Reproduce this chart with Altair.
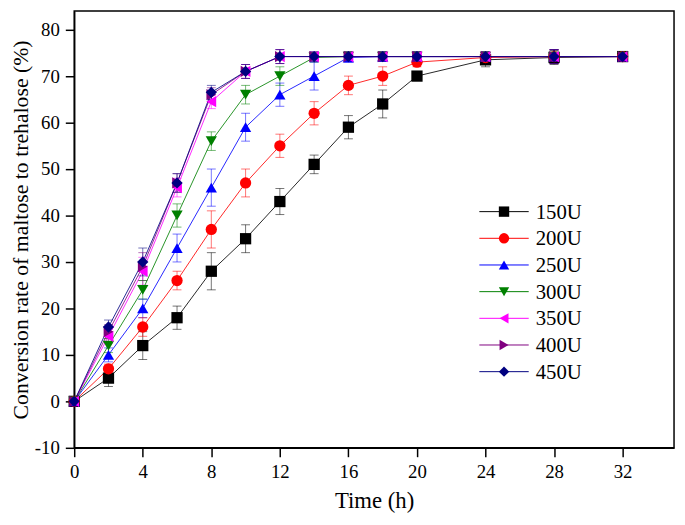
import altair as alt
import pandas as pd

times = [0, 2, 4, 6, 8, 10, 12, 14, 16, 18, 20, 24, 28, 32]
series = ["150U", "200U", "250U", "300U", "350U", "400U", "450U"]
colors = ["#000000", "#FF0000", "#0000FF", "#008000", "#FF00FF", "#800080", "#000080"]
shapes = ["square", "circle", "triangle-up", "triangle-down", "triangle-left", "triangle-right", "diamond"]

v150 = [0, 5, 12, 18, 28, 35, 43, 51, 59, 64, 70, 73.5, 74, 74.2]
v200 = [0, 7, 16, 26, 37, 47, 55, 62, 68, 70, 73, 74, 74.2, 74.2]
v250 = [0, 10, 20, 33, 46, 59, 66, 70, 74, 74.2, 74.2, 74.2, 74.2, 74.2]
v300 = [0, 12, 24, 40, 56, 66, 70, 74, 74.2, 74.2, 74.2, 74.2, 74.2, 74.2]
v350 = [0, 14, 28, 46, 64.5, 71, 74.2, 74.2, 74.2, 74.2, 74.2, 74.2, 74.2, 74.2]
v400 = [0, 15, 29, 47, 66, 71, 74.2, 74.2, 74.2, 74.2, 74.2, 74.2, 74.2, 74.2]
v450 = [0, 16, 30, 47, 66.5, 71, 74.2, 74.2, 74.2, 74.2, 74.2, 74.2, 74.2, 74.2]

e150 = [0, 1.8, 3, 2.5, 4, 3, 2.8, 2, 2.5, 3, 0.5, 1.5, 1.5, 1]
e200 = [0, 1, 2, 2, 4, 3, 2.5, 2.5, 2, 2, 1, 1, 1.5, 1]
e250 = [0, 1.5, 2, 3, 4, 3, 2.5, 3, 1, 1, 1, 1, 1.5, 1]
e300 = [0, 1.5, 2, 2.5, 2, 2, 2, 1, 1, 1, 1, 1, 1.5, 1]
e350 = [0, 1.5, 3, 2, 1.5, 1.5, 1.5, 1, 1, 1, 1, 1, 1.5, 1]
e400 = [0, 1.5, 3, 2, 1.5, 1.5, 1.5, 1, 1, 1, 1, 1, 1.5, 1]
e450 = [0, 1.5, 3, 2, 1.5, 1.5, 1.5, 1, 1, 1, 1, 1, 1.5, 1]

vals = [v150, v200, v250, v300, v350, v400, v450]
errs = [e150, e200, e250, e300, e350, e400, e450]

rows = []
for i, (s, vs, es) in enumerate(zip(series, vals, errs)):
    for t, v, e in zip(times, vs, es):
        rows.append({"series": s, "idx": i, "t": t, "v": v, "lo": v - e, "hi": v + e})
df = pd.DataFrame(rows)

FONT = "Liberation Serif"
xscale = alt.Scale(domain=[0, 35], nice=False, zero=False)
yscale = alt.Scale(domain=[-10, 84], nice=False, zero=False)
cscale = alt.Scale(domain=series, range=colors)
sscale = alt.Scale(domain=series, range=shapes)

common = dict(
    grid=False, labelFlush=False, labelOverlap=False,
    labelFont=FONT, labelFontSize=19, titleFont=FONT,
    titleFontWeight="normal", labelColor="black", titleColor="black",
    domainColor="black", domainWidth=1.5, tickColor="black", tickWidth=1.5,
)
xaxis = alt.Axis(
    title="Time (h)", values=list(range(0, 36, 2)),
    labelExpr="datum.value % 4 === 0 ? '' + datum.value : ''",
    tickSize={"condition": {"test": "datum.value % 4 === 0", "value": 9}, "value": 5},
    titleFontSize=23, labelPadding=6, titlePadding=8, **common,
)
yaxis = alt.Axis(
    title="Conversion rate of maltose to trehalose (%)", values=list(range(-10, 85, 5)),
    labelExpr="datum.value % 10 === 0 ? '' + datum.value : ''",
    tickSize={"condition": {"test": "datum.value % 10 === 0", "value": 9}, "value": 5},
    titleFontSize=22, labelPadding=6, titlePadding=2, **common,
)

base = alt.Chart(df)
col = alt.Color("series:N", scale=cscale, legend=None)

lines = base.mark_line(strokeWidth=1, opacity=0.85).encode(
    x=alt.X("t:Q", scale=xscale, axis=xaxis),
    y=alt.Y("v:Q", scale=yscale, axis=yaxis),
    color=col,
    detail="series:N",
    order="t:Q",
)

rules = base.mark_rule(strokeWidth=1, opacity=0.55).encode(
    x=alt.X("t:Q", scale=xscale),
    y=alt.Y("lo:Q", scale=yscale),
    y2="hi:Q",
    color=col,
)
caps_lo = base.mark_tick(orient="horizontal", size=9, thickness=1, opacity=0.55).encode(
    x=alt.X("t:Q", scale=xscale),
    y=alt.Y("lo:Q", scale=yscale),
    color=col,
)
caps_hi = base.mark_tick(orient="horizontal", size=9, thickness=1, opacity=0.55).encode(
    x=alt.X("t:Q", scale=xscale),
    y=alt.Y("hi:Q", scale=yscale),
    color=col,
)

points = base.mark_point(filled=True, size=130, opacity=1).encode(
    x=alt.X("t:Q", scale=xscale),
    y=alt.Y("v:Q", scale=yscale),
    color=col,
    shape=alt.Shape("series:N", scale=sscale, legend=None),
    order="idx:Q",
)

# manual legend (line + marker + label), placed in data coordinates
leg = pd.DataFrame({
    "series": series,
    "ly": [40.83 - 5.74 * i for i in range(len(series))],
})
leg["x1"] = 23.64
leg["x2"] = 26.52
leg["xm"] = 25.08
leg["xt"] = 26.93

leg_lines = alt.Chart(leg).mark_rule(strokeWidth=1).encode(
    x=alt.X("x1:Q", scale=xscale), x2="x2:Q",
    y=alt.Y("ly:Q", scale=yscale),
    color=col,
)
leg_pts = alt.Chart(leg).mark_point(filled=True, size=110, opacity=1).encode(
    x=alt.X("xm:Q", scale=xscale),
    y=alt.Y("ly:Q", scale=yscale),
    color=col,
    shape=alt.Shape("series:N", scale=sscale, legend=None),
)
leg_txt = alt.Chart(leg).mark_text(align="left", baseline="middle", font=FONT, fontSize=21, color="black", dy=1).encode(
    x=alt.X("xt:Q", scale=xscale),
    y=alt.Y("ly:Q", scale=yscale),
    text="series:N",
)

chart = alt.layer(
    lines, rules, caps_lo, caps_hi, points, leg_lines, leg_pts, leg_txt
).properties(
    width=607, height=442,
    autosize=alt.AutoSizeParams(type="none"),
    padding={"left": 67, "top": 0, "right": 3, "bottom": 72},
    background="white",
).configure_view(stroke="black", strokeWidth=1.5)

chart.save("out.html", embed_options={"renderer": "svg", "actions": False})
